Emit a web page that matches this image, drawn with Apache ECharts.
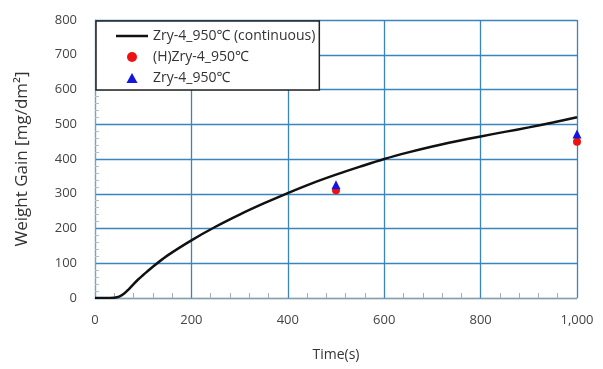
<!DOCTYPE html>
<html>
<head>
<meta charset="utf-8">
<script src="https://cdn.jsdelivr.net/npm/echarts@6/dist/echarts.min.js"></script>
<style>
  html, body { margin: 0; padding: 0; background: #fff; }
  #chart { width: 603px; height: 369px; }
</style>
</head>
<body>
<div id="chart"></div>
<script>
// continuous curve
const timeS = [0, 20, 40, 50, 60, 70, 80, 90, 100, 120, 150, 200, 250, 300, 350, 400, 450, 500, 550, 600, 650, 700, 750, 800, 850, 900, 950, 1000];
const weightGain = [0, 0, 1, 4, 12, 25, 40, 54, 66, 90, 122, 166, 205, 240, 272, 302, 330, 355, 378, 400, 419, 436, 451, 465, 478, 491, 505, 520];

// measured points
const pointTimes = [500, 1000];
const hydrogenGain = [310, 450];
const plainGain = [326, 472];

const names = ['Zry-4_950\u2103 (continuous)', '(H)Zry-4_950\u2103', 'Zry-4_950\u2103'];

const font = '"Open Sans", "Noto Sans", sans-serif';
const gridBlue = '#3a85bd';

const chart = echarts.init(document.getElementById('chart'));
chart.setOption({
  animation: false,
  backgroundColor: '#fff',
  grid: { left: 95, right: 26, top: 20, bottom: 71 },
  legend: {
    orient: 'vertical',
    left: 96,
    top: 21,
    padding: [8, 4, 5, 20],
    itemGap: 7,
    itemWidth: 32,
    itemHeight: 10,
    symbolKeepAspect: true,
    backgroundColor: '#fff',
    borderColor: '#222',
    borderWidth: 1.5,
    textStyle: { fontFamily: font, fontSize: 14, color: '#333' },
    data: [
      { name: names[0], icon: 'path://M0,4 L32,4 L32,6.5 L0,6.5 Z' },
      { name: names[1], icon: 'circle' },
      { name: names[2], icon: 'path://M5,0 L10,9 L0,9 Z' }
    ]
  },
  xAxis: {
    type: 'value',
    min: 0, max: 1000, interval: 200,
    name: 'Time(s)',
    nameLocation: 'middle',
    nameGap: 50,
    nameTextStyle: { fontFamily: font, fontSize: 14, color: '#333' },
    axisLine: { show: true, lineStyle: { color: '#999', width: 1 } },
    axisTick: { show: false, inside: true },
    minorTick: { show: true, splitNumber: 5, length: 5, lineStyle: { color: '#aaa' } },
    axisLabel: {
      fontFamily: font, fontSize: 13, color: '#444', margin: 16,
      formatter: v => v.toLocaleString('en-US')
    },
    splitLine: { show: true, lineStyle: { color: gridBlue, width: 1.3 } }
  },
  yAxis: {
    type: 'value',
    min: 0, max: 800, interval: 100,
    name: 'Weight Gain [mg/dm\u00b2]',
    nameLocation: 'middle',
    nameGap: 64,
    nameTextStyle: { fontFamily: font, fontSize: 17, color: '#333' },
    axisLine: { show: true, lineStyle: { color: '#999', width: 1 } },
    axisTick: { show: false, inside: true },
    minorTick: { show: true, splitNumber: 5, length: 4, lineStyle: { color: '#bbb' } },
    axisLabel: { fontFamily: font, fontSize: 13, color: '#444', margin: 18 },
    splitLine: { show: true, lineStyle: { color: gridBlue, width: 1.3 } }
  },
  series: [
    {
      name: names[0],
      type: 'line',
      smooth: 0.3,
      showSymbol: false,
      lineStyle: { color: '#111', width: 2.5 },
      itemStyle: { color: '#111' },
      data: timeS.map((t, i) => [t, weightGain[i]]),
      z: 3
    },
    {
      name: names[1],
      type: 'scatter',
      symbol: 'circle',
      symbolSize: 8,
      itemStyle: { color: '#ee1111', opacity: 1 },
      data: pointTimes.map((t, i) => [t, hydrogenGain[i]]),
      z: 4
    },
    {
      name: names[2],
      type: 'scatter',
      symbol: 'triangle',
      symbolSize: 9,
      itemStyle: { color: '#1515e0', opacity: 1 },
      data: pointTimes.map((t, i) => [t, plainGain[i]]),
      z: 5
    }
  ]
});
</script>
</body>
</html>
